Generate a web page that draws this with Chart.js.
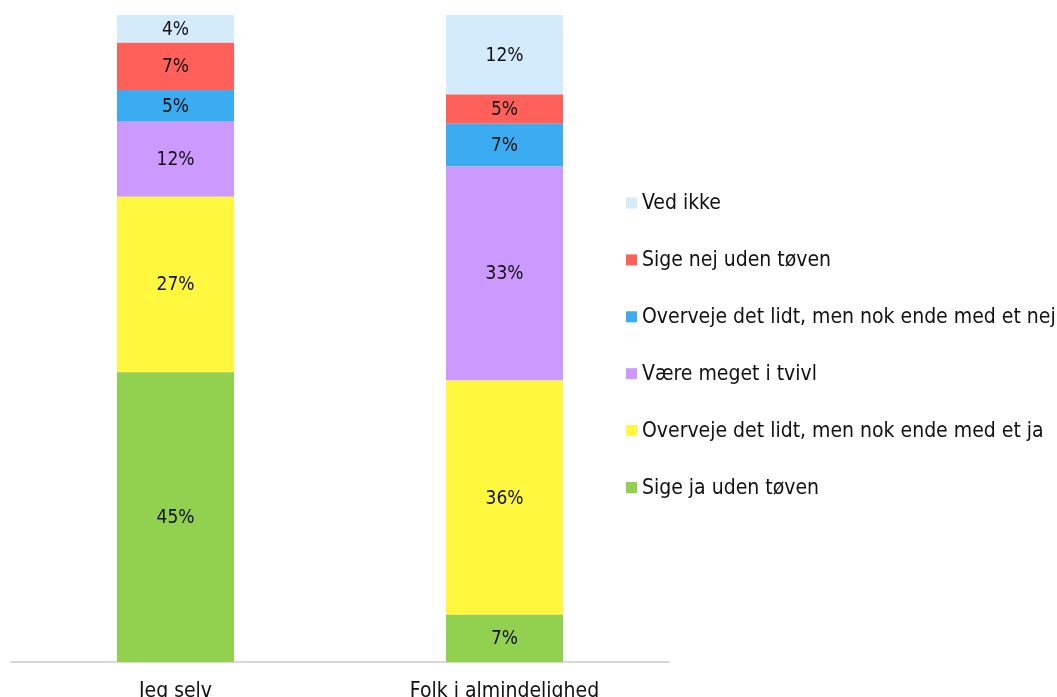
<!DOCTYPE html>
<html>
<head>
<meta charset="utf-8">
<script src="https://cdn.jsdelivr.net/npm/chart.js@4"></script>
<style>
html, body { margin: 0; padding: 0; background: #fff; overflow: hidden; }
#wrap { width: 1057px; height: 703px; position: relative; }
</style>
</head>
<body>
<div id="wrap"><canvas id="c"></canvas></div>
<script>
const categories = ["Jeg selv", "Folk i almindelighed"];
const seriesNames = [
  "Sige ja uden tøven",
  "Overveje det lidt, men nok ende med et ja",
  "Være meget i tvivl",
  "Overveje det lidt, men nok ende med et nej",
  "Sige nej uden tøven",
  "Ved ikke"
];
const sigeJa = [44.8, 7.3];
const overvejeJa = [27.1, 36.2];
const tvivl = [11.6, 33.1];
const overvejeNej = [4.9, 6.6];
const sigeNej = [7.3, 4.5];
const vedIkke = [4.3, 12.3];
const seriesColors = ["#92D050", "#FFF83F", "#CC99FF", "#3BACF2", "#FF6059", "#D4EBFB"];

const FONT = "'DejaVu Sans Condensed', 'DejaVu Sans', sans-serif";
const allSeries = [sigeJa, overvejeJa, tvivl, overvejeNej, sigeNej, vedIkke];

const datasets = allSeries.map((vals, i) => ({
  label: seriesNames[i],
  data: vals,
  backgroundColor: seriesColors[i],
  borderWidth: 0,
  categoryPercentage: 1.0,
  barPercentage: 0.3556
}));

const valueLabels = {
  id: 'valueLabels',
  afterDatasetsDraw(chart) {
    const ctx = chart.ctx;
    ctx.save();
    ctx.font = "19px " + FONT;
    ctx.fillStyle = "#111";
    ctx.textAlign = "center";
    ctx.textBaseline = "middle";
    chart.data.datasets.forEach((ds, di) => {
      const meta = chart.getDatasetMeta(di);
      meta.data.forEach((bar, j) => {
        const v = ds.data[j];
        const yc = (bar.y + bar.base) / 2;
        ctx.fillText(Math.round(v) + "%", bar.x, yc + 1);
      });
    });
    ctx.restore();
  }
};

const sideLegend = {
  id: 'sideLegend',
  afterDraw(chart) {
    const ctx = chart.ctx;
    const area = chart.chartArea;
    const n = chart.data.datasets.length;
    const step = 56.9;
    const x0 = area.right - 43;
    const yTop = 203;
    ctx.save();
    ctx.font = "21px " + FONT;
    ctx.textBaseline = "middle";
    ctx.textAlign = "left";
    for (let k = 0; k < n; k++) {
      const di = n - 1 - k;
      const ds = chart.data.datasets[di];
      const y = yTop + k * step;
      ctx.fillStyle = ds.backgroundColor;
      ctx.fillRect(x0, y - 5.5, 11, 11);
      ctx.fillStyle = "#111";
      ctx.fillText(ds.label, x0 + 16, y + 1);
    }
    ctx.restore();
  }
};

new Chart(document.getElementById('c'), {
  type: 'bar',
  data: { labels: categories, datasets },
  plugins: [valueLabels, sideLegend],
  options: {
    responsive: true,
    maintainAspectRatio: false,
    animation: false,
    layout: { padding: { left: 11, right: 388, top: 15, bottom: 0 } },
    plugins: { legend: { display: false }, tooltip: { enabled: false } },
    scales: {
      x: {
        stacked: true,
        grid: { display: false, drawTicks: false },
        border: { display: true, color: "#D9D9D9", width: 2 },
        ticks: { color: "#111", font: { family: FONT, size: 21 }, padding: 17 },
        afterFit(scale) { scale.height = 41; }
      },
      y: {
        stacked: true,
        display: false,
        min: 0,
        max: 100
      }
    }
  }
});
</script>
</body>
</html>
